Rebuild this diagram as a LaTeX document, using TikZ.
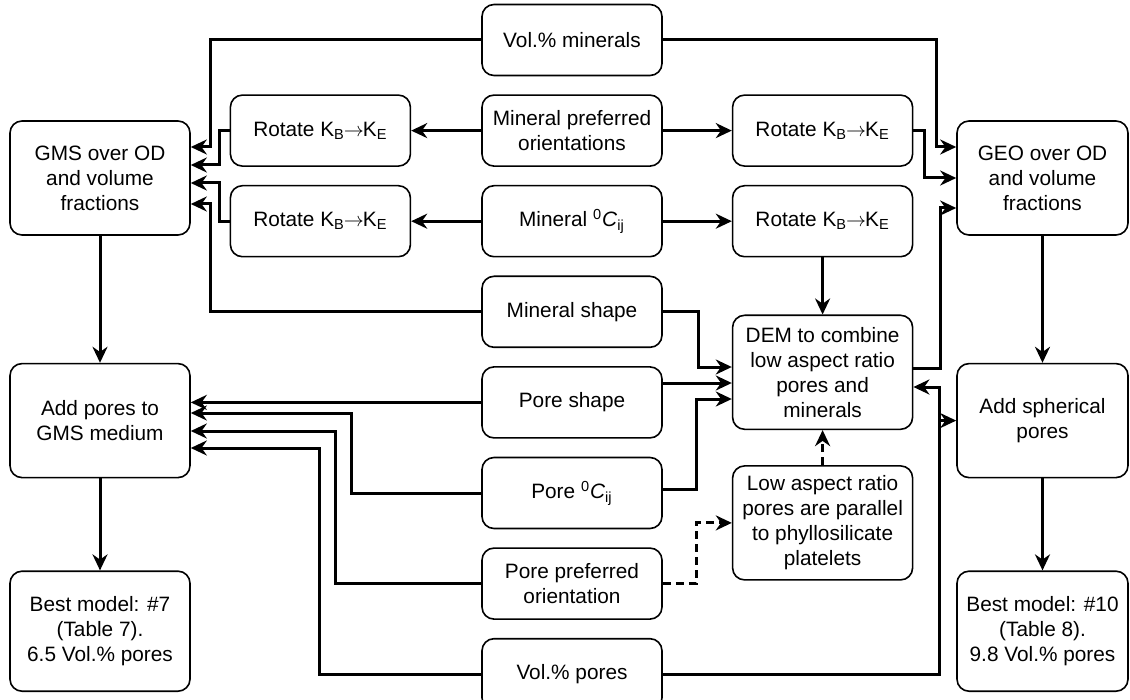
\documentclass[tikz,border=0pt]{standalone}
\usepackage{fontspec}
\setmainfont{Liberation Sans}
\usetikzlibrary{arrows.meta,positioning}
\newcommand{\kbke}{K\textsubscript{B}\kern-0.5pt$\rightarrow$\kern-0.5ptK\textsubscript{E}}
\newcommand{\cij}{\textsuperscript{0}\textit{C}\textsubscript{ij}}

\begin{document}
\begin{tikzpicture}[
  x=0.5pt, y=-0.5pt,
  blk/.style={draw, line width=0.8pt, rounded corners=6pt, align=center, inner sep=0pt,
    minimum width=90pt, minimum height=35.5pt, font=\fontsize{10.4}{12.5}\selectfont},
  tall/.style={blk, minimum height=57pt},
  arr/.style={-{Stealth[length=8pt,width=7.5pt,inset=2.6pt]}, line width=1.5pt},
  darr/.style={arr, dash pattern=on 4pt off 2.5pt},
  node distance=9pt
]
  \useasboundingbox (0,0) rectangle (1130,700);

  % centre column
  \node[blk] (volmin) at (572,40) {Vol.\% minerals};
  \node[blk, below=of volmin] (minor) {Mineral preferred\\orientations};
  \node[blk, below=of minor] (mincij) {Mineral \cij};
  \node[blk, below=of mincij] (minshape) {Mineral shape};
  \node[blk, below=of minshape] (poreshape) {Pore shape};
  \node[blk, below=of poreshape] (porecij) {Pore \cij};
  \node[blk, below=of porecij] (poreor) {Pore preferred\\orientation};
  \node[blk, below=of poreor] (volpore) {Vol.\% pores};

  \node[blk, left=35pt of minor] (rotl1) {Rotate \kbke};
  \node[blk, left=35pt of mincij] (rotl2) {Rotate \kbke};
  \node[blk, right=34.5pt of minor] (rotr1) {Rotate \kbke};
  \node[blk, right=34.5pt of mincij] (rotr2) {Rotate \kbke};
  \node[tall, below=28.5pt of rotr2] (dem) {DEM to combine\\low aspect ratio\\pores and\\minerals};
  \node[tall, below=17.5pt of dem] (lowar) {Low aspect ratio\\pores are parallel\\to phyllosilicate\\platelets};

  % outer columns
  \node[tall] (gms) at (100,178) {GMS over OD\\and volume\\fractions};
  \node[tall, below=63.5pt of gms] (addgms) {Add pores to\\GMS medium};
  \node[blk, minimum height=60pt, below=46pt of addgms] (best7) {Best model: \#7\\(Table 7).\\6.5 Vol.\% pores};
  \node[tall, minimum width=85.5pt] (geo) at (1042.5,178) {GEO over OD\\and volume\\fractions};
  \node[tall, minimum width=85.5pt, below=63.5pt of geo] (addsph) {Add spherical\\pores};
  \node[blk, minimum width=85.5pt, minimum height=60pt, below=46pt of addsph] (best10) {Best model: \#10\\(Table 8).\\9.8 Vol.\% pores};

  % minerals
  \draw[arr] (volmin.west) -| (210,147) -- (gms.east |- 0,147);
  \draw[arr] (volmin.east) -| (936,147) -- (geo.west |- 0,147);
  \draw[arr] (minor) -- (rotl1);
  \draw[arr] (minor) -- (rotr1);
  \draw[arr] (mincij) -- (rotl2);
  \draw[arr] (mincij) -- (rotr2);
  \draw[arr] (rotl1.west) -| (219,165) -- (gms.east |- 0,165);
  \draw[arr] (rotl2.west) -| (219,183) -- (gms.east |- 0,183);
  \draw[arr] (minshape.west) -| (210,204) -- (gms.east |- 0,204);
  \draw[arr] (rotr1.east) -| (924,178) -- (geo.west |- 0,178);
  \draw[arr] (rotr2) -- (dem);
  \draw[arr] (dem.east |- 0,368) -| (940,208) -- (geo.west |- 0,208);
  \draw[arr] (minshape.east) -| (698,367) -- (dem.west |- 0,367);

  % pores
  \draw[arr] (poreshape.east |- 0,383) -- (dem.west |- 0,383);
  \draw[arr] (porecij.east |- 0,489) -| (696,399) -- (dem.west |- 0,399);
  \draw[arr] (poreshape) -- (addgms.east |- poreshape);
  \draw[arr] (porecij.west) -| (351,413) -- (addgms.east |- 0,413);
  \draw[arr] (poreor.west) -| (335,431) -- (addgms.east |- 0,431);
  \draw[arr] (volpore.west) -| (319,448) -- (addgms.east |- 0,448);
  \draw[darr] (poreor.east) -| (lowar.west -| 696,0) -- (lowar.west);
  \draw[darr] (lowar) -- (dem);
  \draw[arr] (volpore.east) -| (939,387) -- (dem.east |- 0,387);
  \draw[arr] (addsph.west -| 939,0) -- (addsph.west);

  \draw[arr] (gms) -- (addgms);
  \draw[arr] (addgms) -- (best7);
  \draw[arr] (geo) -- (addsph);
  \draw[arr] (addsph) -- (best10);
\end{tikzpicture}
\end{document}
